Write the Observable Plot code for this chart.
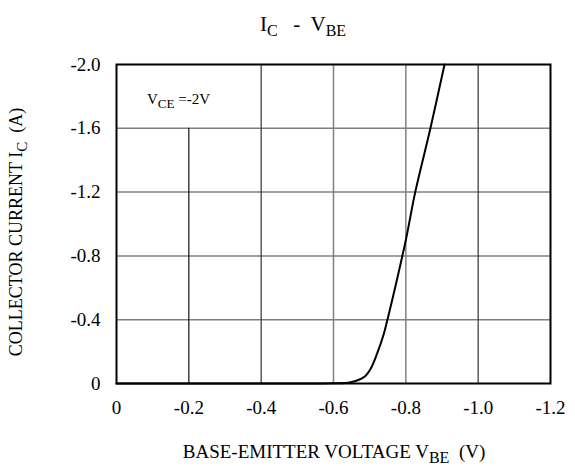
<!DOCTYPE html>
<html><head><meta charset="utf-8">
<script src="https://cdn.jsdelivr.net/npm/d3@7"></script>
<script src="https://cdn.jsdelivr.net/npm/@observablehq/plot@0.6"></script>
<style>
body{margin:0;background:#fff}
</style>
</head><body><div id="chart"></div>
<script>
const vbe = [0, -0.2, -0.4, -0.55, -0.6, -0.647, -0.684, -0.702, -0.721, -0.739, -0.748, -0.762, -0.8, -0.826, -0.868, -0.907];
const ic  = [0, 0, 0, 0, -0.001, -0.008, -0.04, -0.09, -0.19, -0.31, -0.39, -0.52, -0.90, -1.2, -1.6, -2.0];
const xTicks = [0, -0.2, -0.4, -0.6, -0.8, -1.0, -1.2];
const yTicks = [0, -0.4, -0.8, -1.2, -1.6, -2.0];
const hGrid = [-0.4, -0.8, -1.2, -1.6];
const vGridGray = [-0.6, -0.8];
const vGridDark = [-0.4, -1.0];
const vGridShort = [-0.2];
const fmt = d => Math.abs(d) < 1e-9 ? "0" : d.toFixed(1);
const data = vbe.map((v, k) => ({v, i: ic[k]}));
const FONT = '"Liberation Serif", "Times New Roman", serif';

const plot = Plot.plot({
  width: 575, height: 466,
  marginLeft: 116, marginRight: 25, marginTop: 64, marginBottom: 83,
  style: {fontFamily: FONT, fontSize: "19px", color: "#000", background: "#fff"},
  x: {domain: [0, -1.2], label: null},
  y: {domain: [0, -2.0], label: null},
  marks: [
    Plot.ruleY(hGrid, {stroke: "#808080", strokeWidth: 1.5}),
    Plot.ruleX(vGridGray, {stroke: "#808080", strokeWidth: 1.5}),
    Plot.ruleX(vGridDark, {stroke: "#333", strokeWidth: 1.2}),
    Plot.ruleX(vGridShort, {y1: 0, y2: -1.6, stroke: "#111", strokeWidth: 1.2}),
    Plot.line(data, {x: "v", y: "i", stroke: "#000", strokeWidth: 2, curve: "catmull-rom"}),
    Plot.frame({stroke: "#000", strokeWidth: 2}),
    Plot.axisX({ticks: xTicks, tickFormat: fmt, tickSize: 0, tickPadding: 17, fontSize: 19, label: null}),
    Plot.axisY({ticks: yTicks, tickFormat: fmt, tickSize: 0, tickPadding: 16, fontSize: 19, label: null})
  ]
});
document.getElementById("chart").appendChild(plot);

const svg = d3.select(plot);
svg.selectAll("g[aria-label$='tick label']").attr("font-size", 19).attr("font-family", FONT);
svg.selectAll("g[aria-label$='tick label'] text").style("font-family", FONT).style("font-size", "19px");

function sub(t, parts, size, subSize) {
  parts.forEach(([s, isSub]) => {
    t.append("tspan").attr("font-size", isSub ? subSize : size)
      .attr("baseline-shift", isSub ? "-30%" : null).text(s);
  });
}
function addText(x, y, anchor, size, transform) {
  const t = svg.append("text").attr("text-anchor", anchor)
    .style("font-family", FONT)
    .attr("font-size", size).attr("fill", "#000").style("white-space", "pre");
  if (transform) t.attr("transform", transform); else t.attr("x", x).attr("y", y);
  return t;
}
// Title
sub(addText(303, 31, "middle", 21), [["I", false], ["C", true], ["   -  V", false], ["BE", true]], 21, 16);
// Annotation
sub(addText(147, 104, "start", 15), [["V", false], ["CE", true], [" =-2V", false]], 15, 13);
// X axis label
sub(addText(334, 458, "middle", 19), [["BASE-EMITTER VOLTAGE V", false], ["BE", true], ["  (V)", false]], 19, 16);
// Y axis label
sub(addText(0, 0, "middle", 18, "translate(22,232) rotate(-90)"), [["COLLECTOR CURRENT I", false], ["C", true], ["  (A)", false]], 18, 15);
</script></body></html>
